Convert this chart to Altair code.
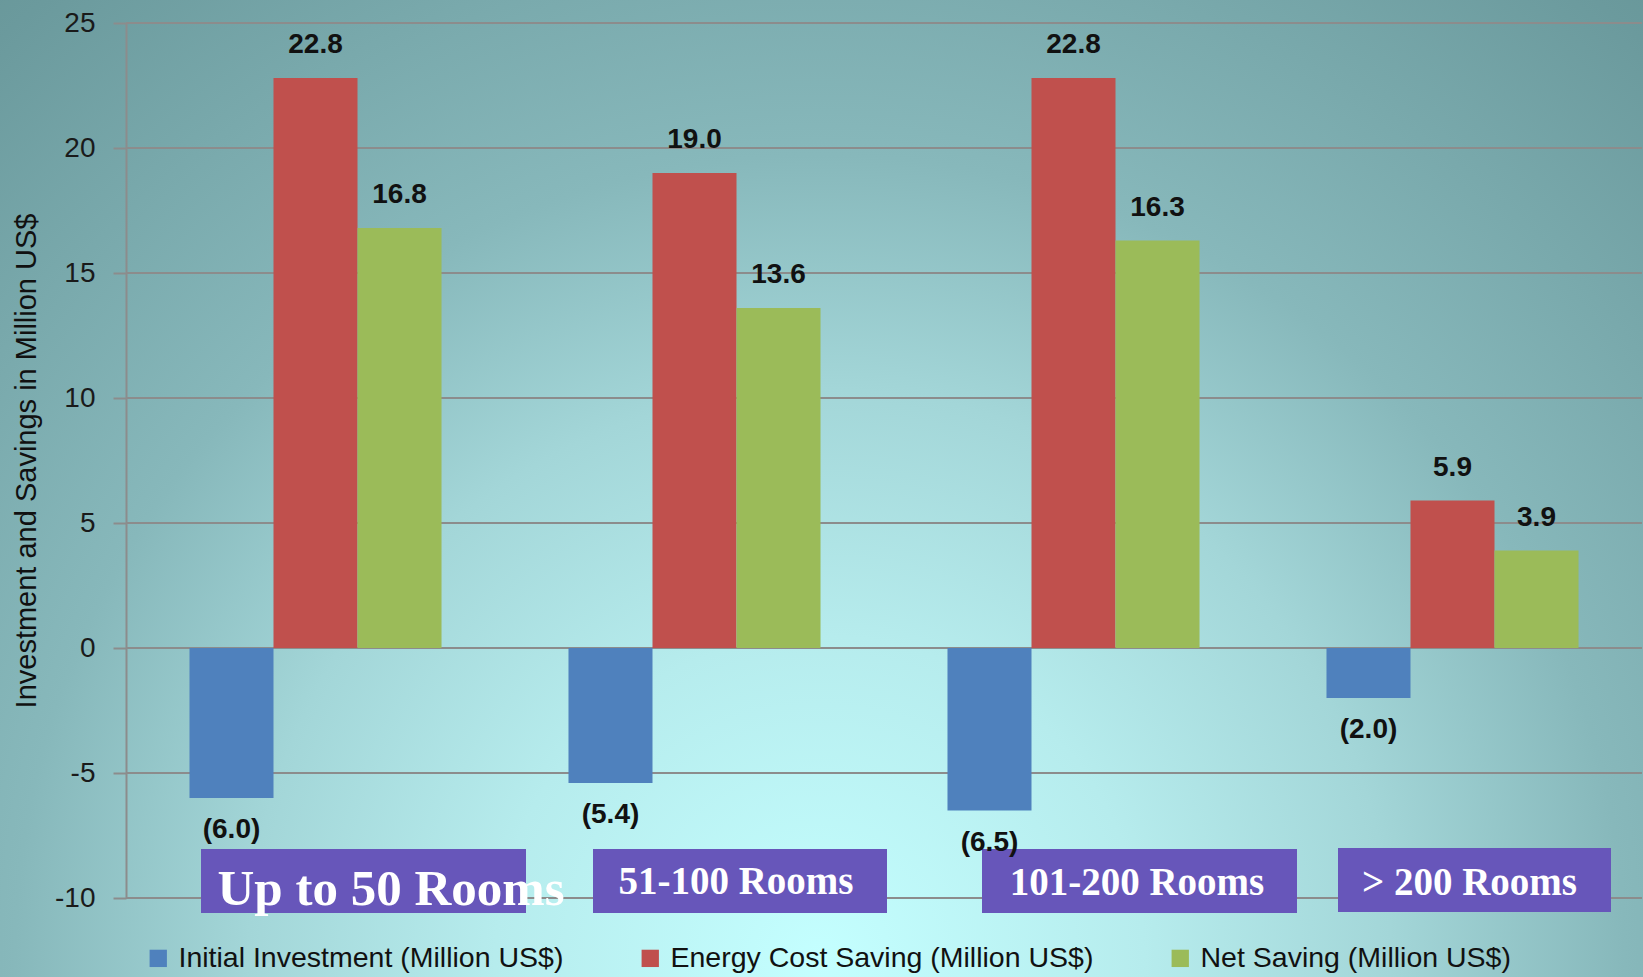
import altair as alt
import pandas as pd

# Hotel size groups and the three money series (million US$)
CATEGORIES = ["Up to 50 Rooms", "51-100 Rooms", "101-200 Rooms", "> 200 Rooms"]
SERIES = [
    "Initial Investment (Million US$)",
    "Energy Cost Saving (Million US$)",
    "Net Saving (Million US$)",
]
INITIAL_INVESTMENT = [-6.0, -5.4, -6.5, -2.0]
ENERGY_COST_SAVING = [22.8, 19.0, 22.8, 5.9]
NET_SAVING = [16.8, 13.6, 16.3, 3.9]
Y_TICKS = [-10, -5, 0, 5, 10, 15, 20, 25]

COLORS = ["#4f81bd", "#c0504d", "#9bbb59"]
BOX_COLOR = "#6756ba"
GRID = "#8c8c8c"

rows = []
for s, vals in zip(SERIES, [INITIAL_INVESTMENT, ENERGY_COST_SAVING, NET_SAVING]):
    for c, v in zip(CATEGORIES, vals):
        rows.append({
            "category": c,
            "series": s,
            "value": v,
            "label": f"({abs(v):.1f})" if v < 0 else f"{v:.1f}",
        })
df = pd.DataFrame(rows)
ticks_df = pd.DataFrame({"value": Y_TICKS})

W, H = 1516, 875
PAD = {"left": 126, "top": 23, "right": 1, "bottom": 79}
FULL_W = PAD["left"] + W + PAD["right"]
FULL_H = PAD["top"] + H + PAD["bottom"]

x_scale = alt.Scale(domain=CATEGORIES, paddingInner=0.335, paddingOuter=0.1675)
y_scale = alt.Scale(domain=[-10, 25], nice=False, zero=False)
y_axis = alt.Axis(
    values=Y_TICKS,
    labelExpr="toString(datum.value)",
    title="Investment and Savings in Million US$",
    grid=False, zindex=1,
    domainColor=GRID, domainWidth=2,
    tickColor=GRID, tickWidth=2, tickSize=13,
    labelFont="Liberation Sans", labelFontSize=28, labelColor="#1a1a1a",
    labelPadding=18,
    titleFont="Liberation Sans", titleFontSize=29, titleFontWeight="normal",
    titleColor="#111111", titleAngle=270, titleX=-100, titleY=H / 2,
    titleAlign="center", titleBaseline="middle",
)
x_enc = alt.X("category:N", scale=x_scale, axis=None, sort=CATEGORIES)
xo_enc = alt.XOffset("series:N", scale=alt.Scale(domain=SERIES, paddingInner=0, paddingOuter=0))
y_enc = alt.Y("value:Q", scale=y_scale, axis=y_axis)

# soft radial backdrop, brightest near the bottom centre
bg_fill = {
    "gradient": "radial",
    "x1": 0.499, "y1": 0.787, "r1": 0,
    "x2": 0.499, "y2": 0.787, "r2": 0.79,
    "stops": [
        {"offset": 0.0, "color": "#c4ffff"},
        {"offset": 0.25, "color": "#b6eced"},
        {"offset": 0.44, "color": "#a3d6d8"},
        {"offset": 0.62, "color": "#87b8bb"},
        {"offset": 0.95, "color": "#6b9a9d"},
        {"offset": 1.0, "color": "#689799"},
    ],
}
background = alt.Chart(pd.DataFrame({"k": [0]})).mark_rect(fill=bg_fill).encode(
    x=alt.value(-PAD["left"]),
    x2=alt.value(FULL_W - PAD["left"]),
    y=alt.value(-PAD["top"]),
    y2=alt.value(FULL_H - PAD["top"]),
)

# horizontal gridlines, kept beneath the bars
gridlines = alt.Chart(ticks_df).mark_rule(color=GRID, strokeWidth=2).encode(
    y=y_enc,
    x=alt.value(0),
    x2=alt.value(W),
)

bars = alt.Chart(df).mark_bar().encode(
    x=x_enc,
    xOffset=xo_enc,
    y=y_enc,
    y2=alt.datum(0),
    color=alt.Color(
        "series:N",
        scale=alt.Scale(domain=SERIES, range=COLORS),
        sort=SERIES,
        legend=alt.Legend(
            title=None, orient="none", legendX=18, legendY=921,
            direction="horizontal", symbolType="square", symbolSize=300,
            symbolStrokeWidth=0, labelFont="Liberation Sans", labelFontSize=28.5,
            labelColor="#111111", columnPadding=72, labelOffset=6, padding=0,
            labelLimit=700,
        ),
    ),
)

# purple name plates under each group: (plate shift, plate width, text shift, font size, baseline y, top y)
PLATES = [
    (48, 325, 75.5, 51, 882, 826),
    (45.5, 294, 41.5, 39, 871, 826),
    (66, 315, 63.5, 39, 872, 826),
    (22, 273, 17, 39, 872, 825),
]
plate_layers = []
text_layers = []
for cat, (shift, pw, tshift, fs, base_y, top_y) in zip(CATEGORIES, PLATES):
    one = pd.DataFrame({"category": [cat]})
    plate_layers.append(
        alt.Chart(one).mark_bar(width=pw, xOffset=shift, color=BOX_COLOR).encode(
            x=x_enc, y=alt.value(top_y), y2=alt.value(top_y + 64)
        )
    )
    text_layers.append(
        alt.Chart(one).mark_text(
            dx=tshift, align="center", baseline="alphabetic",
            font="Liberation Serif", fontWeight="bold", fontSize=fs, color="white",
        ).encode(x=x_enc, y=alt.value(base_y), text="category:N")
    )

label_style = dict(font="Liberation Sans", fontSize=28, fontWeight="bold",
                   color="#111111", baseline="middle", align="center")
pos_labels = alt.Chart(df).transform_filter("datum.value >= 0").mark_text(
    dy=-33, **label_style
).encode(x=x_enc, xOffset=xo_enc, y=y_enc, text="label:N")
neg_labels = alt.Chart(df).transform_filter("datum.value < 0").mark_text(
    dy=32, **label_style
).encode(x=x_enc, xOffset=xo_enc, y=y_enc, text="label:N")

chart = alt.layer(
    background, gridlines, bars, *plate_layers, *text_layers, pos_labels, neg_labels
).properties(
    width=W, height=H,
    autosize=alt.AutoSizeParams(type="none"),
    padding=PAD,
    background="#8fbfc2",
).configure_view(stroke=None)

chart.save("out.html", embed_options={"renderer": "svg", "actions": False})
